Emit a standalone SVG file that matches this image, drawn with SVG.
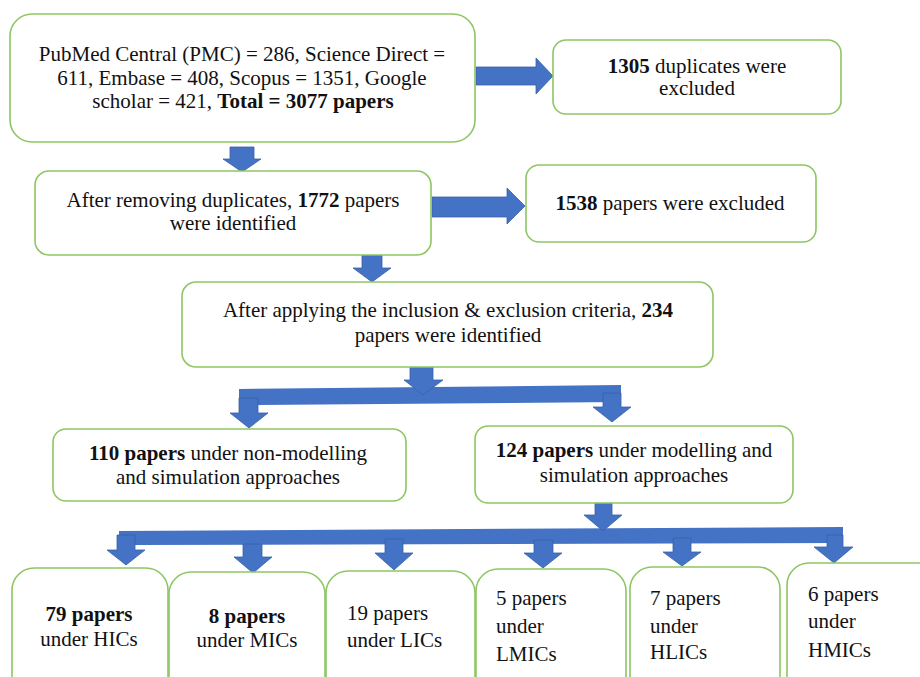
<svg xmlns="http://www.w3.org/2000/svg" width="920" height="677" viewBox="0 0 920 677">
<style>
.box{fill:#ffffff;stroke:#8dc663;stroke-width:1.6}
.t{font-family:"Liberation Serif","Times New Roman",serif;font-size:21px;fill:#111111}
.c{text-anchor:middle}
.b{font-weight:bold}
.arr{fill:#4472c4;stroke:#3a61a8;stroke-width:0.8;stroke-linejoin:miter}
.bar{fill:#4472c4;stroke:none}
</style>
<rect width="920" height="677" fill="#ffffff"/>
<g id="connectors">
  <polygon class="arr" points="476,67 536,67 536,58 553,76 536,94 536,85 476,85"/>
  <polygon class="arr" points="432,197 507,197 507,188 525,206 507,224 507,217 432,217"/>
  <polygon class="arr" points="230,147 254,147 254,159 261,159 242,172 223,159 230,159"/>
  <polygon class="arr" points="362,255 382,255 382,268 391,268 372,282 353,268 362,268"/>
  <polygon class="bar" points="239,389 621,385 621,402 258,405 239,405"/>
  <polygon class="arr" points="410,366 433,366 433,380 443,380 423,395 404,380 410,380"/>
  <polygon class="arr" points="239,398 258,398 258,413 268,413 249,428 230,413 239,413"/>
  <polygon class="arr" points="603,393 621,393 621,407 631,407 612,422 593,407 603,407"/>
  <polygon class="bar" points="119,531 843,527 843,543 135,545 119,545"/>
  <polygon class="arr" points="595,503 612,503 612,515 622,515 603,531 584,515 595,515"/>
  <polygon class="arr" points="117,535 135,535 135,550 145,550 126,565 107,550 117,550"/>
  <polygon class="arr" points="243,544 262,544 262,557 272,557 253,573 234,557 243,557"/>
  <polygon class="arr" points="385,539 403,539 403,553 413,553 394,570 375,553 385,553"/>
  <polygon class="arr" points="534,540 553,540 553,553 562,553 543,568 524,553 534,553"/>
  <polygon class="arr" points="673,538 691,538 691,552 701,552 682,566 663,552 673,552"/>
  <polygon class="arr" points="827,535 843,535 843,547 853,547 834,563 814,547 827,547"/>
</g>
<g id="n-sources">
  <rect class="box" x="10" y="14" width="465" height="128" rx="22"/>
  <text class="t c" x="242" y="61">PubMed Central (PMC) = 286, Science Direct =</text>
  <text class="t c" x="242" y="85">611, Embase = 408, Scopus = 1351, Google</text>
  <text class="t c" x="243" y="108">scholar = 421, <tspan class="b">Total = 3077 papers</tspan></text>
</g>
<g id="n-duplicates">
  <rect class="box" x="553" y="40" width="288" height="74" rx="13"/>
  <text class="t c" x="697" y="73"><tspan class="b">1305</tspan> duplicates were</text>
  <text class="t c" x="697" y="95">excluded</text>
</g>
<g id="n-removed">
  <rect class="box" x="35" y="171" width="396" height="84" rx="14"/>
  <text class="t c" x="233" y="207">After removing duplicates, <tspan class="b">1772</tspan> papers</text>
  <text class="t c" x="233" y="230">were identified</text>
</g>
<g id="n-excluded">
  <rect class="box" x="526" y="165" width="290" height="77" rx="13"/>
  <text class="t c" x="670" y="210"><tspan class="b">1538</tspan> papers were excluded</text>
</g>
<g id="n-criteria">
  <rect class="box" x="182" y="282" width="531" height="85" rx="14"/>
  <text class="t c" x="448" y="317">After applying the inclusion &amp; exclusion criteria, <tspan class="b">234</tspan></text>
  <text class="t c" x="448" y="342">papers were identified</text>
</g>
<g id="n-nonmodel">
  <rect class="box" x="53" y="429" width="353" height="72" rx="13"/>
  <text class="t c" x="228" y="460"><tspan class="b">110 papers</tspan> under non-modelling</text>
  <text class="t c" x="228" y="484">and simulation approaches</text>
</g>
<g id="n-model">
  <rect class="box" x="475" y="426" width="318" height="77" rx="13"/>
  <text class="t c" x="634" y="457"><tspan class="b">124 papers</tspan> under modelling and</text>
  <text class="t c" x="634" y="482">simulation approaches</text>
</g>
<g id="n-hics">
  <rect class="box" x="12" y="568" width="156" height="140" rx="22"/>
  <text class="t c b" x="89" y="621">79 papers</text>
  <text class="t c" x="89" y="646">under HICs</text>
</g>
<g id="n-mics">
  <rect class="box" x="169" y="572" width="156" height="140" rx="22"/>
  <text class="t c b" x="247" y="623">8 papers</text>
  <text class="t c" x="247" y="647">under MICs</text>
</g>
<g id="n-lics">
  <rect class="box" x="326" y="571" width="149" height="140" rx="22"/>
  <text class="t" x="347" y="620">19 papers</text>
  <text class="t" x="347" y="647">under LICs</text>
</g>
<g id="n-lmics">
  <rect class="box" x="476" y="569" width="150" height="140" rx="22"/>
  <text class="t" x="496" y="605">5 papers</text>
  <text class="t" x="496" y="633">under</text>
  <text class="t" x="496" y="661">LMICs</text>
</g>
<g id="n-hlics">
  <rect class="box" x="630" y="567" width="150" height="140" rx="22"/>
  <text class="t" x="650" y="605">7 papers</text>
  <text class="t" x="650" y="633">under</text>
  <text class="t" x="650" y="659">HLICs</text>
</g>
<g id="n-hmics">
  <rect class="box" x="787" y="563" width="160" height="140" rx="22"/>
  <text class="t" x="808" y="601">6 papers</text>
  <text class="t" x="808" y="628">under</text>
  <text class="t" x="808" y="657">HMICs</text>
</g>
</svg>
